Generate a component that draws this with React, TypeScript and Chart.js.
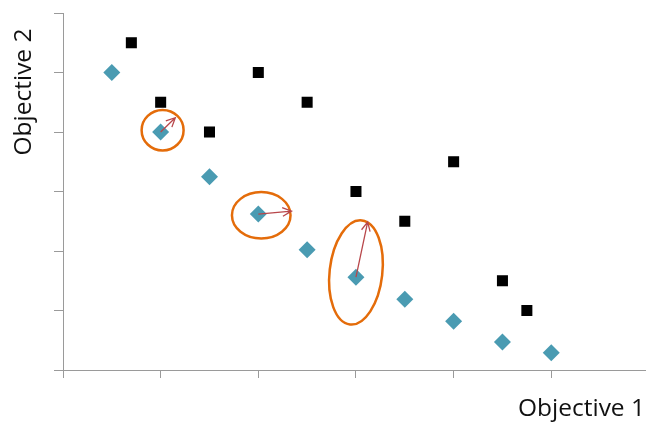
import React, { useEffect, useRef } from "react";
import { Chart, registerables } from "chart.js";

Chart.register(...registerables);

// Pareto front (teal diamonds)
const frontX = [0.5, 1.0, 1.5, 2.0, 2.5, 3.0, 3.5, 4.0, 4.5, 5.0];
const frontY = [5.0, 4.0, 3.25, 2.62, 2.02, 1.56, 1.19, 0.82, 0.47, 0.29];
// Dominated solutions (black squares)
const otherX = [0.7, 1.0, 1.5, 2.0, 2.5, 3.0, 3.5, 4.0, 4.5, 4.75];
const otherY = [5.5, 4.5, 4.0, 5.0, 4.5, 3.0, 2.5, 3.5, 1.5, 1.0];

// Highlight ellipses (data units): centre x, centre y, radius x, radius y, tilt (deg)
const ellipseCX = [1.02, 2.03, 3.0];
const ellipseCY = [4.03, 2.6, 1.64];
const ellipseRX = [0.215, 0.3, 0.27];
const ellipseRY = [0.34, 0.39, 0.88];
const ellipseTilt = [0, 0, 6.5];

// Arrows (data units)
const arrowFromX = [1.0, 2.0, 3.0];
const arrowFromY = [4.0, 2.62, 1.56];
const arrowToX = [1.15, 2.34, 3.12];
const arrowToY = [4.24, 2.67, 2.49];

const xTitle = "Objective 1";
const yTitle = "Objective 2";

const AXIS_GRAY = "#9a9a9a";
const FONT = "'Open Sans', 'Liberation Sans', sans-serif";

const overlayPlugin = {
  id: "overlay",
  afterDatasetsDraw(chart: any) {
    const ctx = chart.ctx as CanvasRenderingContext2D;
    const xs = chart.scales.x;
    const ys = chart.scales.y;
    ctx.save();
    // ellipses
    ctx.strokeStyle = "#E46C0A";
    ctx.lineWidth = 2.5;
    for (let i = 0; i < ellipseCX.length; i++) {
      const cx = xs.getPixelForValue(ellipseCX[i]);
      const cy = ys.getPixelForValue(ellipseCY[i]);
      const rx = Math.abs(xs.getPixelForValue(ellipseCX[i] + ellipseRX[i]) - cx);
      const ry = Math.abs(ys.getPixelForValue(ellipseCY[i] + ellipseRY[i]) - cy);
      ctx.beginPath();
      ctx.ellipse(cx, cy, rx, ry, (ellipseTilt[i] * Math.PI) / 180, 0, Math.PI * 2);
      ctx.stroke();
    }
    // arrows
    ctx.strokeStyle = "#B8474B";
    ctx.lineWidth = 1.3;
    for (let i = 0; i < arrowFromX.length; i++) {
      const x1 = xs.getPixelForValue(arrowFromX[i]);
      const y1 = ys.getPixelForValue(arrowFromY[i]);
      const x2 = xs.getPixelForValue(arrowToX[i]);
      const y2 = ys.getPixelForValue(arrowToY[i]);
      const a = Math.atan2(y2 - y1, x2 - x1);
      const h = 10;
      const spread = 0.45;
      ctx.beginPath();
      ctx.moveTo(x1, y1);
      ctx.lineTo(x2, y2);
      ctx.moveTo(x2 - h * Math.cos(a - spread), y2 - h * Math.sin(a - spread));
      ctx.lineTo(x2, y2);
      ctx.lineTo(x2 - h * Math.cos(a + spread), y2 - h * Math.sin(a + spread));
      ctx.stroke();
    }
    ctx.restore();
  },
  afterDraw(chart: any) {
    const ctx = chart.ctx as CanvasRenderingContext2D;
    ctx.save();
    ctx.fillStyle = "#111";
    ctx.font = `24.5px ${FONT}`;
    ctx.textBaseline = "middle";
    ctx.textAlign = "right";
    ctx.fillText(xTitle, 645, 409);
    ctx.translate(24, 92);
    ctx.rotate(-Math.PI / 2);
    ctx.textAlign = "center";
    ctx.fillText(yTitle, 0, 0);
    ctx.restore();
  },
};

export default function App() {
  const ref = useRef<HTMLCanvasElement | null>(null);
  useEffect(() => {
    document.body.style.margin = "0";
    const canvas = ref.current!;
    const chart = new Chart(canvas, {
      type: "scatter",
      data: {
        datasets: [
          {
            label: "Front",
            data: frontX.map((x, i) => ({ x, y: frontY[i] })),
            pointStyle: "rectRot",
            pointRadius: 8.5,
            pointHoverRadius: 8.5,
            backgroundColor: "#4A9BB2",
            borderColor: "#4A9BB2",
            borderWidth: 0,
          },
          {
            label: "Other",
            data: otherX.map((x, i) => ({ x, y: otherY[i] })),
            pointStyle: "rect",
            pointRadius: 7.8,
            pointHoverRadius: 7.8,
            backgroundColor: "#000",
            borderColor: "#000",
            borderWidth: 0,
          },
        ],
      },
      options: {
        responsive: false,
        animation: false,
        events: [],
        layout: { autoPadding: false, padding: { top: 13, right: 0, left: 0, bottom: 0 } },
        plugins: { legend: { display: false }, tooltip: { enabled: false } },
        scales: {
          x: {
            type: "linear",
            min: 0,
            max: 5.97,
            ticks: { display: false, stepSize: 1, includeBounds: false },
            grid: { drawOnChartArea: false, color: AXIS_GRAY, tickLength: 8, lineWidth: 1 },
            border: { color: AXIS_GRAY, width: 1 },
            afterFit: (s: any) => {
              s.height = 54;
            },
          },
          y: {
            type: "linear",
            min: 0,
            max: 6,
            ticks: { display: false, stepSize: 1 },
            grid: { drawOnChartArea: false, color: AXIS_GRAY, tickLength: 9, lineWidth: 1 },
            border: { color: AXIS_GRAY, width: 1 },
            afterFit: (s: any) => {
              s.width = 63;
            },
          },
        },
      },
      plugins: [overlayPlugin],
    } as any);
    return () => chart.destroy();
  }, []);
  return (
    <div style={{ position: "absolute", left: 0, top: 0, width: 646, height: 424 }}>
      <canvas ref={ref} width={646} height={424} />
    </div>
  );
}
